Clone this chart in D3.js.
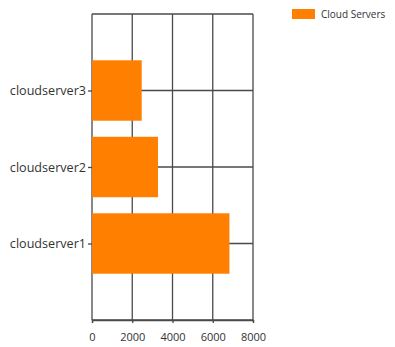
<!DOCTYPE html>
<html>
<head>
<meta charset="utf-8">
<script src="https://cdn.jsdelivr.net/npm/d3@7"></script>
<style>
  html, body { margin: 0; padding: 0; background: #fff; }
  svg { display: block; }
  text { font-family: "Open Sans", "Liberation Sans", sans-serif; fill: #333; }
</style>
</head>
<body>
<script>
// Server load per cloud server
const categories = ["cloudserver1", "cloudserver2", "cloudserver3"];
const values = [6830, 3280, 2470];
const xTicks = [0, 2000, 4000, 6000, 8000];
const seriesName = "Cloud Servers";
const barColor = "#ff8000";

const width = 395, height = 347;
const plot = { left: 92, right: 253, top: 14, bottom: 320 };

const svg = d3.select("body").append("svg")
  .attr("width", width).attr("height", height);

const x = d3.scaleLinear().domain([0, 8000]).range([plot.left, plot.right]);

// Categories sit on interior grid lines; top and bottom slots are padding
const slots = ["", ...categories.slice().reverse(), " "];
const y = d3.scalePoint().domain(slots).range([plot.top, plot.bottom]);
const step = y.step();
const barH = step * 0.79;

const gridColor = "#4a4a4a";

// Vertical grid lines
svg.append("g").selectAll("line").data(xTicks).join("line")
  .attr("x1", d => x(d)).attr("x2", d => x(d))
  .attr("y1", plot.top).attr("y2", plot.bottom)
  .attr("stroke", gridColor).attr("stroke-width", 1.3);

// Horizontal grid lines
svg.append("g").selectAll("line").data(slots).join("line")
  .attr("x1", plot.left).attr("x2", plot.right)
  .attr("y1", d => y(d)).attr("y2", d => y(d))
  .attr("stroke", gridColor).attr("stroke-width", 1.3);

// Bars
svg.append("g").selectAll("rect").data(categories).join("rect")
  .attr("x", x(0))
  .attr("y", d => y(d) - barH / 2)
  .attr("width", (d, i) => x(values[i]) - x(0))
  .attr("height", barH)
  .attr("fill", barColor);

// Category axis
const yAxis = svg.append("g")
  .attr("transform", `translate(${plot.left},0)`)
  .call(d3.axisLeft(y).tickValues(categories).tickSize(4).tickPadding(2));
yAxis.select(".domain").remove();
yAxis.selectAll(".tick line").attr("stroke", gridColor).attr("stroke-width", 1.3);
yAxis.selectAll(".tick text").attr("font-size", 12.6).attr("fill", "#333")
  .style("font-family", "'Open Sans', sans-serif");

// Value axis
const xAxis = svg.append("g")
  .attr("transform", `translate(0,${plot.bottom})`)
  .call(d3.axisBottom(x).tickValues(xTicks).tickFormat(d3.format("d")).tickSize(3).tickPadding(10));
xAxis.select(".domain").attr("stroke", gridColor).attr("stroke-width", 1.3);
xAxis.selectAll(".tick line").attr("stroke", gridColor).attr("stroke-width", 1.3);
xAxis.selectAll(".tick text").attr("font-size", 11).attr("fill", "#333")
  .style("font-family", "'Open Sans', sans-serif");

// Legend
const legend = svg.append("g").attr("transform", "translate(292,9)");
legend.append("rect").attr("width", 23).attr("height", 10).attr("fill", barColor);
legend.append("text").attr("x", 29).attr("y", 5).attr("dy", "0.35em")
  .attr("font-size", 10).attr("fill", "#444")
  .style("font-family", "'Open Sans', sans-serif")
  .text(seriesName);
</script>
</body>
</html>
